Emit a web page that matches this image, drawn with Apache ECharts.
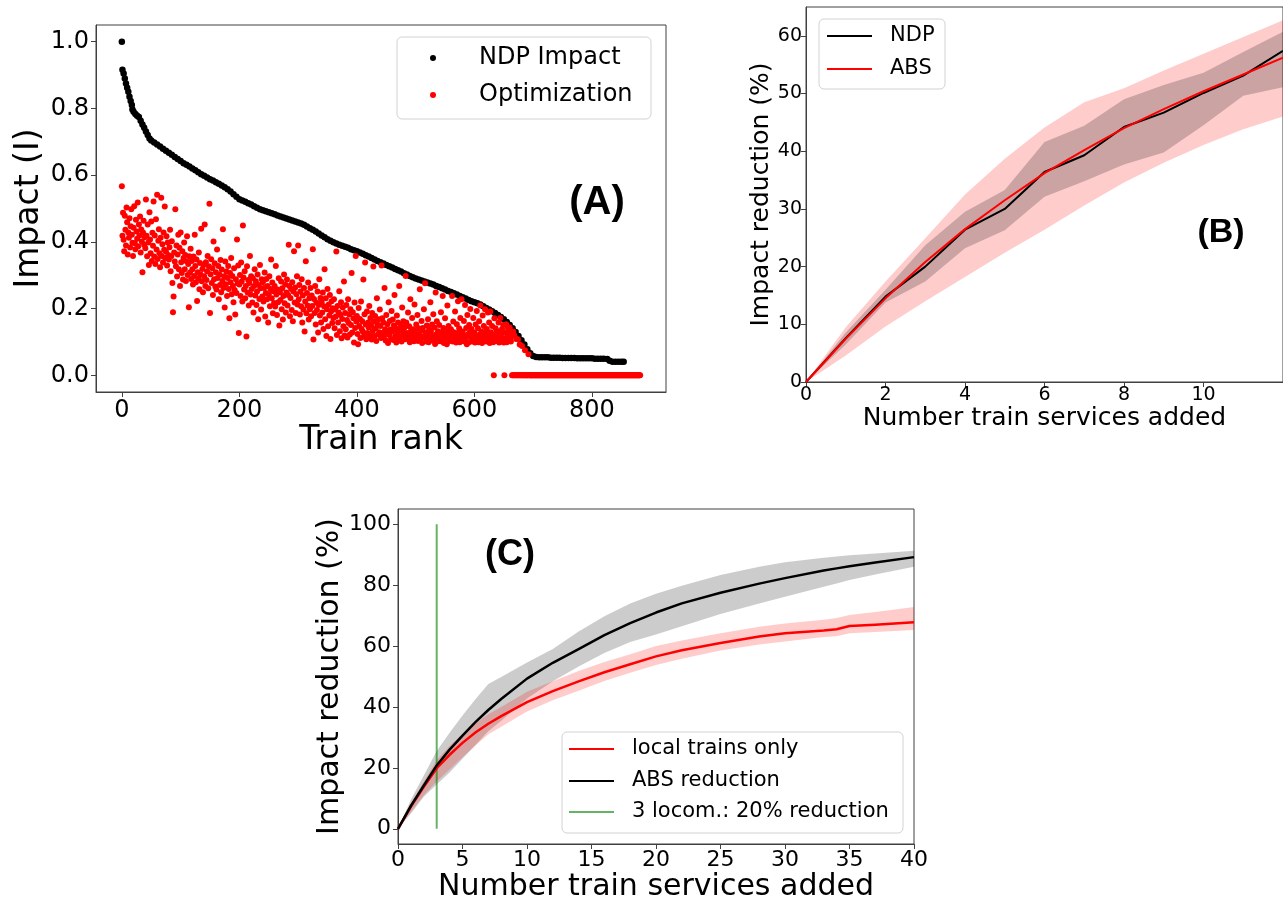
<!DOCTYPE html>
<html>
<head>
<meta charset="utf-8">
<script src="https://cdn.jsdelivr.net/npm/echarts@6/dist/echarts.min.js"></script>
<style>
html, body { margin: 0; padding: 0; background: #fff; }
#chart { width: 1283px; height: 903px; }
</style>
</head>
<body>
<div id="chart"></div>
<script>
// ---------- Panel A: impact per train, sorted by rank ----------
// NDP impact: [rank, impact]
const ndpImpact = [
  [0,1.0],[1,.916],[3,.905],[5,.89],[7,.875],[9,.862],[11,.85],[13,.835],[15,.822],[17,.81],[18,.797],[20,.79],
  [23,.783],[26,.778],[29,.774],[32,.763],[35,.752],[38,.742],[41,.731],[44,.72],[47,.71],[50,.704],[55,.698],
  [60,.692],[65,.686],[70,.679],[75,.673],[80,.667],[85,.661],[90,.654],[95,.648],[100,.642],[105,.636],[110,.631],
  [115,.626],[120,.62],[125,.615],[130,.609],[135,.603],[140,.598],[145,.593],[150,.588],[155,.584],[160,.579],
  [165,.574],[170,.569],[175,.564],[180,.558],[185,.551],[190,.543],[195,.535],[200,.528],[205,.524],[210,.52],
  [215,.516],[220,.512],[225,.507],[230,.502],[235,.498],[240,.495],[245,.492],[250,.489],[255,.486],[260,.483],
  [265,.479],[270,.476],[275,.473],[280,.47],[285,.467],[290,.464],[295,.461],[300,.458],[305,.455],[310,.451],
  [315,.446],[320,.441],[325,.436],[330,.431],[335,.425],[340,.419],[345,.414],[350,.408],[355,.403],[360,.399],
  [365,.395],[370,.391],[375,.388],[380,.385],[385,.382],[390,.378],[395,.375],[400,.372],[405,.368],[410,.364],
  [415,.36],[420,.356],[425,.352],[430,.347],[435,.343],[440,.339],[445,.335],[450,.331],[455,.327],[460,.323],
  [465,.319],[470,.315],[475,.311],[480,.306],[485,.302],[490,.298],[495,.294],[500,.29],[505,.287],[510,.284],
  [515,.281],[520,.278],[525,.275],[530,.272],[535,.268],[540,.265],[545,.261],[550,.257],[555,.253],[560,.25],
  [565,.246],[570,.242],[575,.238],[580,.234],[585,.23],[590,.226],[595,.222],[600,.219],[605,.216],[610,.212],
  [615,.207],[620,.202],[625,.197],[630,.192],[635,.187],[640,.181],[645,.175],[650,.168],[655,.16],[660,.151],
  [665,.141],[670,.13],[675,.118],[680,.105],[685,.092],[690,.078],[695,.066],[700,.058],[705,.055],[710,.054],
  [715,.054],[720,.054],[725,.054],[730,.053],[735,.053],[740,.053],[745,.053],[750,.052],[755,.052],[760,.052],
  [765,.052],[770,.052],[775,.051],[780,.051],[785,.051],[790,.051],[795,.051],[800,.051],[805,.05],[810,.05],
  [815,.05],[820,.05],[826,.049],[830,.044],[835,.041],[840,.041],[845,.041],[850,.041],[854,.041]
];

// Optimization result, one value per train rank (0 .. 882)
const optimization = [
  .567,.418,.487,.406,.372,.478,.436,.389,.503,.459,.362,.428,.412,.471,.383,.447,.498,.421,.397,.358,
  .442,.507,.396,.378,.466,.431,.409,.518,.387,.452,.419,.476,.368,.437,.401,.309,.428,.463,.391,.414,
  .381,.527,.418,.357,.452,.398,.331,.489,.407,.366,.461,.343,.427,.388,.521,.356,.419,.334,.468,.377,
  .541,.349,.403,.438,.366,.324,.412,.532,.358,.393,.338,.428,.376,.506,.352,.371,.417,.329,.398,.361,
  .347,.384,.436,.312,.357,.402,.277,.189,.236,.368,.341,.498,.327,.389,.296,.362,.421,.318,.382,.268,
  .428,.339,.307,.372,.287,.352,.398,.318,.361,.283,.342,.417,.301,.334,.204,.357,.308,.379,.289,.343,
  .318,.272,.356,.298,.421,.328,.279,.347,.223,.309,.291,.368,.258,.337,.302,.439,.282,.319,.249,.331,
  .297,.452,.268,.339,.286,.312,.358,.261,.327,.514,.187,.303,.348,.277,.321,.241,.401,.288,.336,.266,
  .309,.257,.377,.292,.328,.228,.302,.271,.346,.249,.317,.283,.438,.262,.297,.203,.341,.273,.311,.238,
  .292,.328,.259,.171,.307,.279,.352,.243,.298,.268,.219,.321,.256,.182,.288,.247,.407,.276,.329,.127,
  .272,.301,.238,.338,.281,.221,.449,.293,.257,.312,.231,.268,.116,.327,.248,.286,.209,.277,.358,.242,
  .297,.259,.218,.291,.188,.268,.318,.239,.282,.211,.251,.302,.168,.271,.229,.331,.261,.197,.288,.236,
  .279,.221,.262,.308,.176,.247,.289,.228,.268,.158,.243,.297,.207,.259,.347,.231,.278,.186,.252,.217,
  .268,.206,.328,.242,.181,.257,.219,.291,.149,.249,.226,.281,.198,.261,.167,.238,.302,.216,.272,.188,
  .248,.287,.209,.241,.391,.268,.177,.232,.259,.196,.279,.162,.251,.372,.218,.263,.187,.243,.297,.212,
  .389,.228,.271,.182,.251,.207,.288,.158,.239,.197,.262,.131,.221,.342,.186,.247,.209,.278,.167,.231,
  .198,.262,.177,.239,.208,.378,.107,.229,.187,.268,.152,.218,.196,.251,.128,.211,.288,.179,.232,.158,
  .219,.188,.248,.139,.207,.318,.168,.231,.118,.198,.259,.147,.212,.179,.241,.109,.191,.222,.157,.201,
  .172,.228,.141,.197,.176,.371,.121,.208,.158,.188,.252,.132,.181,.219,.111,.169,.203,.147,.281,.119,
  .187,.138,.211,.166,.113,.228,.157,.182,.122,.198,.151,.307,.128,.189,.171,.098,.218,.142,.358,.161,
  .178,.124,.093,.202,.148,.169,.112,.221,.139,.162,.131,.287,.117,.183,.338,.152,.108,.191,.127,.158,
  .143,.208,.119,.172,.149,.107,.187,.133,.326,.161,.118,.178,.141,.103,.231,.152,.122,.168,.129,.197,
  .148,.112,.329,.171,.127,.158,.116,.262,.138,.104,.181,.129,.153,.097,.219,.121,.163,.137,.109,.193,
  .132,.167,.106,.149,.241,.118,.142,.098,.179,.128,.158,.111,.268,.139,.117,.151,.101,.203,.131,.162,
  .122,.143,.108,.298,.158,.127,.112,.188,.119,.147,.099,.228,.133,.106,.172,.121,.138,.102,.212,.129,
  .111,.152,.118,.181,.103,.141,.123,.258,.108,.134,.163,.097,.142,.117,.198,.113,.276,.128,.101,.149,
  .121,.168,.099,.139,.112,.219,.131,.104,.152,.118,.183,.109,.143,.094,.248,.123,.162,.101,.132,.114,
  .151,.119,.102,.189,.128,.108,.238,.142,.097,.122,.171,.112,.133,.093,.209,.118,.148,.103,.127,.109,
  .138,.117,.238,.101,.161,.129,.107,.191,.119,.098,.153,.127,.222,.111,.141,.099,.172,.121,.228,.108,
  .131,.102,.163,.118,.211,.109,.142,.093,.181,.123,.098,.151,.128,.199,.113,.139,.101,.121,.172,.107,
  .128,.098,.152,.117,.193,.108,.141,.099,.162,.122,.209,.111,.131,.097,.179,.119,.148,.106,.198,.127,
  .101,.139,.118,.188,.109,.158,.097,.191,.129,.107,.148,.121,.099,0,.171,.112,.141,.103,.132,.118,
  .109,.158,.098,.131,.172,.122,.101,.139,.112,.151,.098,0,.128,.107,.153,.099,.121,.142,.109,.133,
  .143,.112,.101,.121,0,0,.131,0,.119,0,0,.109,0,0,.108,0,0,.092,0,0,
  0,.088,0,0,0,0,.075,0,0,0,0,0,.063,0,0,0,0,0,0,0,
  0,0,0,0,0,0,0,0,0,0,0,0,0,0,0,0,0,0,0,0,
  0,0,0,0,0,0,0,0,0,0,0,0,0,0,0,0,0,0,0,0,
  0,0,0,0,0,0,0,0,0,0,0,0,0,0,0,0,0,0,0,0,
  0,0,0,0,0,0,0,0,0,0,0,0,0,0,0,0,0,0,0,0,
  0,0,0,0,0,0,0,0,0,0,0,0,0,0,0,0,0,0,0,0,
  0,0,0,0,0,0,0,0,0,0,0,0,0,0,0,0,0,0,0,0,
  0,0,0,0,0,0,0,0,0,0,0,0,0,0,0,0,0,0,0,0,
  0,0,0,0,0,0,0,0,0,0,0,0,0,0,0,0,0,0,0,0,
  0,0,0,0,0,0,0,0,0,0,0,0,0,0,0,0,0,0,0,0,
  0,0,0
];

const rankTicks = [0, 200, 400, 600, 800];
const impactTicks = [0, 0.2, 0.4, 0.6, 0.8, 1.0];

// ---------- Panel B: NDP vs ABS reduction ----------
const bAdded   = [0, 1, 2, 3, 4, 5, 6, 7, 8, 9, 10, 11, 12];
const bNdp     = [0, 7.6, 14.8, 20.0, 26.4, 30.0, 36.4, 39.3, 44.2, 46.7, 50.1, 53.1, 57.4];
const bNdpLow  = [0, 6.5, 13.8, 17.4, 23.2, 26.3, 32.1, 34.8, 37.7, 39.8, 44.5, 49.6, 51.1];
const bNdpHigh = [0, 8.6, 16.0, 23.7, 29.5, 33.3, 41.6, 44.4, 49.0, 51.5, 53.6, 57.2, 60.7];
const bAbs     = [0, 7.5, 14.5, 20.8, 26.5, 31.5, 36.2, 40.2, 44.0, 47.3, 50.4, 53.3, 56.2];
const bAbsLow  = [0, 4.6, 9.6, 14.0, 18.2, 22.4, 26.4, 30.6, 34.6, 38.0, 41.1, 43.8, 46.0];
const bAbsHigh = [0, 9.5, 17.4, 24.9, 32.5, 38.7, 44.1, 48.5, 50.9, 54.0, 56.9, 59.8, 62.7];
const bXTicks = [0, 2, 4, 6, 8, 10];
const bYTicks = [0, 10, 20, 30, 40, 50, 60];

// ---------- Panel C: local trains vs ABS reduction ----------
const cAdded    = [0, 1, 2, 3, 4, 5, 6, 7, 8, 10, 12, 14, 16, 18, 20, 22, 25, 28, 30, 33, 34, 35, 37, 40];
const cAbs      = [0, 7.5, 14.2, 20.8, 26.0, 30.6, 35.0, 39.0, 42.6, 49.3, 54.5, 59.0, 63.6, 67.5, 71.0, 74.0, 77.5, 80.5, 82.3, 84.8, 85.5, 86.2, 87.4, 89.2];
const cAbsHigh  = [0, 9.5, 17.5, 25.5, 31.5, 37.2, 42.5, 47.5, 49.8, 54.6, 59.0, 64.8, 69.8, 74.0, 77.2, 79.8, 83.3, 86.0, 87.5, 89.0, 89.4, 89.8, 90.4, 91.3];
const cAbsLow   = [0, 5.0, 10.5, 14.5, 18.5, 23.0, 27.5, 32.0, 35.5, 42.8, 48.4, 53.3, 57.7, 61.3, 63.8, 66.5, 70.5, 74.0, 76.2, 79.5, 80.5, 81.7, 83.5, 86.0];
const cLocal    = [0, 7.3, 13.8, 19.9, 24.3, 28.2, 31.6, 34.5, 37.0, 41.6, 45.2, 48.4, 51.4, 54.0, 56.6, 58.6, 61.0, 63.1, 64.2, 65.1, 65.5, 66.6, 67.0, 67.8];
const cLocalHigh= [0, 8.5, 15.5, 22.5, 27.2, 31.2, 34.6, 37.6, 40.0, 45.0, 48.4, 51.8, 54.8, 57.3, 60.0, 61.8, 64.2, 66.3, 67.4, 68.6, 69.2, 70.2, 71.2, 72.8];
const cLocalLow = [0, 5.5, 11.0, 15.5, 19.5, 23.5, 27.3, 31.0, 33.5, 38.5, 42.2, 45.3, 48.5, 51.2, 53.8, 55.8, 58.5, 60.5, 61.5, 63.0, 63.2, 64.2, 64.6, 65.3];
const locomotives = 3;           // vertical marker position
const locomotiveSpan = [0, 100]; // vertical extent of the marker
const cXTicks = [0, 5, 10, 15, 20, 25, 30, 35, 40];
const cYTicks = [0, 20, 40, 60, 80, 100];

// ---------- drawing ----------
const FONT = '"DejaVu Sans", sans-serif';
const BOLD = '"Liberation Sans", Arial, sans-serif';
const AX = '#404040';

function pairs(xs, ys) { return xs.map((x, i) => [x, ys[i]]); }

function band(xs, lo, hi, idx, color) {
  return {
    type: 'custom', xAxisIndex: idx, yAxisIndex: idx, silent: true, z: 1,
    data: [[xs[0], lo[0]]],
    renderItem: (params, api) => {
      const pts = [];
      for (let i = 0; i < xs.length; i++) pts.push(api.coord([xs[i], hi[i]]));
      for (let i = xs.length - 1; i >= 0; i--) pts.push(api.coord([xs[i], lo[i]]));
      return { type: 'polygon', shape: { points: pts }, style: { fill: color } };
    }
  };
}

function valueAxis(gridIndex, min, max, ticks, labelSize, margin, name, nameSize, nameGap, fmt) {
  return {
    type: 'value', gridIndex, min, max,
    axisLine: { show: true, onZero: false, lineStyle: { color: AX, width: 1 } },
    axisTick: { show: true, length: 5, customValues: ticks, lineStyle: { color: AX, width: 1 } },
    axisLabel: { customValues: ticks, fontSize: labelSize, fontFamily: FONT, color: '#000', margin,
                 formatter: fmt || (v => String(v)) },
    splitLine: { show: false },
    name, nameLocation: 'middle', nameGap,
    nameTextStyle: { fontSize: nameSize, fontFamily: FONT, color: '#000' }
  };
}

const gridStyle = { show: true, borderColor: AX, borderWidth: 1, backgroundColor: 'transparent' };

function legendBox(x, y, w, h) {
  return { type: 'rect', z: 100, shape: { x, y, width: w, height: h, r: 5 },
           style: { fill: 'rgba(255,255,255,0.85)', stroke: '#d2d2d2', lineWidth: 1 } };
}
function legendText(x, y, text, size) {
  return { type: 'text', z: 101, style: { x, y, text, font: size + 'px ' + FONT, fill: '#000',
           align: 'left', verticalAlign: 'middle', textAlign: 'left', textVerticalAlign: 'middle' } };
}
function legendLine(x1, x2, y, color, w) {
  return { type: 'line', z: 101, shape: { x1, y1: y, x2, y2: y }, style: { stroke: color, lineWidth: w } };
}
function legendDot(cx, cy, color) {
  return { type: 'circle', z: 101, shape: { cx, cy, r: 3 }, style: { fill: color } };
}
function panelTag(x, y, text, size) {
  return { type: 'text', z: 101, style: { x, y, text, font: 'bold ' + size + 'px ' + BOLD, fill: '#000',
           align: 'center', verticalAlign: 'middle', textAlign: 'center', textVerticalAlign: 'middle' } };
}

const chart = echarts.init(document.getElementById('chart'), null, { renderer: 'canvas' });

chart.setOption({
  animation: false,
  backgroundColor: '#fff',
  grid: [
    Object.assign({ left: 96, top: 25, width: 570, height: 367 }, gridStyle),
    Object.assign({ left: 806, top: 7, width: 480, height: 375 }, gridStyle),
    Object.assign({ left: 398, top: 509, width: 516, height: 335 }, gridStyle)
  ],
  xAxis: [
    valueAxis(0, -44, 926, rankTicks, 24, 7, 'Train rank', 33, 31),
    valueAxis(1, 0, 12, bXTicks, 19, 4, 'Number train services added', 25, 22),
    valueAxis(2, 0, 40, cXTicks, 22, 5, 'Number train services added', 30, 27)
  ],
  yAxis: [
    valueAxis(0, -0.05, 1.05, impactTicks, 24, 7, 'Impact (I)', 33, 50, v => v.toFixed(1)),
    valueAxis(1, 0, 65, bYTicks, 19, 4, 'Impact reduction (%)', 25, 29),
    valueAxis(2, -5, 105, cYTicks, 22, 7, 'Impact reduction (%)', 30, 53)
  ],
  series: [
    // Panel A
    { type: 'scatter', name: 'NDP Impact', xAxisIndex: 0, yAxisIndex: 0, data: ndpImpact,
      symbolSize: 6.5, itemStyle: { color: '#000', opacity: 1 }, silent: true, z: 2 },
    { type: 'scatter', name: 'Optimization', xAxisIndex: 0, yAxisIndex: 0,
      data: optimization.map((v, i) => [i, v]),
      symbolSize: 6, itemStyle: { color: '#ff0000', opacity: 1 }, silent: true, z: 3 },

    // Panel B
    band(bAdded, bAbsLow, bAbsHigh, 1, 'rgba(255,0,0,0.2)'),
    band(bAdded, bNdpLow, bNdpHigh, 1, 'rgba(0,0,0,0.2)'),
    { type: 'line', name: 'NDP', xAxisIndex: 1, yAxisIndex: 1, data: pairs(bAdded, bNdp),
      showSymbol: false, lineStyle: { color: '#000', width: 2 }, silent: true, z: 3 },
    { type: 'line', name: 'ABS', xAxisIndex: 1, yAxisIndex: 1, data: pairs(bAdded, bAbs),
      showSymbol: false, lineStyle: { color: '#ff0000', width: 2 }, silent: true, z: 4 },

    // Panel C
    band(cAdded, cAbsLow, cAbsHigh, 2, 'rgba(0,0,0,0.2)'),
    band(cAdded, cLocalLow, cLocalHigh, 2, 'rgba(255,0,0,0.2)'),
    { type: 'line', name: '3 locom.: 20% reduction', xAxisIndex: 2, yAxisIndex: 2,
      data: locomotiveSpan.map(v => [locomotives, v]),
      showSymbol: false, lineStyle: { color: 'rgba(0,128,0,0.6)', width: 2 }, silent: true, z: 3 },
    { type: 'line', name: 'local trains only', xAxisIndex: 2, yAxisIndex: 2, data: pairs(cAdded, cLocal),
      showSymbol: false, lineStyle: { color: '#ff0000', width: 2.5, join: 'round' }, silent: true, z: 4 },
    { type: 'line', name: 'ABS reduction', xAxisIndex: 2, yAxisIndex: 2, data: pairs(cAdded, cAbs),
      showSymbol: false, lineStyle: { color: '#000', width: 2.5, join: 'round' }, silent: true, z: 5 }
  ],
  graphic: [
    // Panel A legend and tag
    legendBox(397, 37, 254, 82),
    legendDot(433, 58, '#000'), legendText(479, 58, 'NDP Impact', 24),
    legendDot(433, 95, '#ff0000'), legendText(479, 95, 'Optimization', 24),
    panelTag(597, 203, '(A)', 40),

    // Panel B legend and tag
    legendBox(819, 19, 126, 70),
    legendLine(827, 872, 36, '#000', 2), legendText(890, 36, 'NDP', 21),
    legendLine(827, 872, 69, '#ff0000', 2), legendText(890, 69, 'ABS', 21),
    panelTag(1221, 233, '(B)', 34),

    // Panel C legend and tag
    legendBox(562, 732, 341, 101),
    legendLine(569, 614, 749, '#ff0000', 2), legendText(632, 749, 'local trains only', 21),
    legendLine(569, 614, 781, '#000', 2), legendText(632, 781, 'ABS reduction', 21),
    legendLine(569, 614, 812, 'rgba(0,128,0,0.6)', 2), legendText(632, 812, '3 locom.: 20% reduction', 21),
    panelTag(510, 555, '(C)', 36)
  ]
});
</script>
</body>
</html>
